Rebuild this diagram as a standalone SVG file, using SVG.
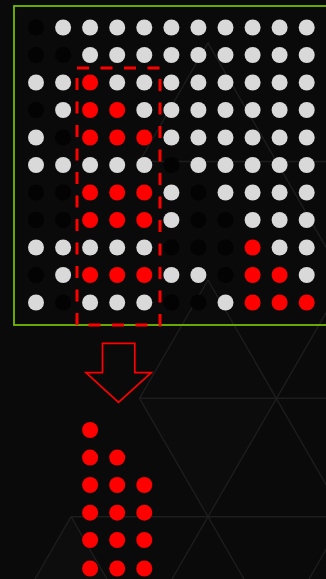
<svg xmlns="http://www.w3.org/2000/svg" width="326" height="579" viewBox="0 0 326 579">
<style>
.bg{fill:#0a0a0a}
.lat{stroke:#1d1d1d;stroke-width:1.4;fill:none}
.w{fill:#d9d9d9}
.r{fill:#ff0000}
.k{fill:#030303}
.frame{fill:none;stroke:#76b900;stroke-width:1.8}
.sel{fill:none;stroke:#ff0000;stroke-width:3;stroke-dasharray:12 11.5}
.arrow{fill:none;stroke:#ff0000;stroke-width:1.7;stroke-linejoin:miter}
</style>
<rect class="bg" x="0" y="0" width="326" height="579"/>
<g id="background-lattice">
<polygon points="139.5,398.3 208,516.7 276.5,398.3" fill="#0c0c0c"/>
<polygon points="208,280 139.5,398.3 276.5,398.3" fill="#0b0b0b"/>
<polygon points="71,516.7 35,579 107,579" fill="#0d0d0d"/>
<path class="lat" d="M139.5,161.5 L208,43 L345,280 M139.5,161.5 H326 M208,280 L139.5,398.3 M208,280 L362,547 M345,280 L172,579 M139.5,398.3 H326 M139.5,398.3 L244,579 M71,516.7 H326 M71,516.7 L35,579 M71,516.7 L107,579 M345,516.7 L309,579"/>
</g>
<g id="source-frame">
<rect class="frame" x="14" y="6" width="330" height="319"/>
</g>
<g id="grid">
<circle class="k" cx="36" cy="27.5" r="8"/><circle class="w" cx="63.1" cy="27.5" r="8"/><circle class="w" cx="90.1" cy="27.5" r="8"/><circle class="w" cx="117.2" cy="27.5" r="8"/><circle class="w" cx="144.3" cy="27.5" r="8"/><circle class="w" cx="171.4" cy="27.5" r="8"/><circle class="w" cx="198.4" cy="27.5" r="8"/><circle class="w" cx="225.5" cy="27.5" r="8"/><circle class="w" cx="252.6" cy="27.5" r="8"/><circle class="w" cx="279.6" cy="27.5" r="8"/><circle class="w" cx="306.7" cy="27.5" r="8"/>
<circle class="k" cx="36" cy="55" r="8"/><circle class="k" cx="63.1" cy="55" r="8"/><circle class="w" cx="90.1" cy="55" r="8"/><circle class="w" cx="117.2" cy="55" r="8"/><circle class="w" cx="144.3" cy="55" r="8"/><circle class="w" cx="171.4" cy="55" r="8"/><circle class="w" cx="198.4" cy="55" r="8"/><circle class="w" cx="225.5" cy="55" r="8"/><circle class="w" cx="252.6" cy="55" r="8"/><circle class="w" cx="279.6" cy="55" r="8"/><circle class="w" cx="306.7" cy="55" r="8"/>
<circle class="w" cx="36" cy="82.5" r="8"/><circle class="w" cx="63.1" cy="82.5" r="8"/><circle class="r" cx="90.1" cy="82.5" r="8"/><circle class="w" cx="117.2" cy="82.5" r="8"/><circle class="w" cx="144.3" cy="82.5" r="8"/><circle class="w" cx="171.4" cy="82.5" r="8"/><circle class="w" cx="198.4" cy="82.5" r="8"/><circle class="w" cx="225.5" cy="82.5" r="8"/><circle class="w" cx="252.6" cy="82.5" r="8"/><circle class="w" cx="279.6" cy="82.5" r="8"/><circle class="w" cx="306.7" cy="82.5" r="8"/>
<circle class="k" cx="36" cy="110" r="8"/><circle class="w" cx="63.1" cy="110" r="8"/><circle class="r" cx="90.1" cy="110" r="8"/><circle class="r" cx="117.2" cy="110" r="8"/><circle class="w" cx="144.3" cy="110" r="8"/><circle class="w" cx="171.4" cy="110" r="8"/><circle class="w" cx="198.4" cy="110" r="8"/><circle class="w" cx="225.5" cy="110" r="8"/><circle class="w" cx="252.6" cy="110" r="8"/><circle class="w" cx="279.6" cy="110" r="8"/><circle class="w" cx="306.7" cy="110" r="8"/>
<circle class="w" cx="36" cy="137.5" r="8"/><circle class="k" cx="63.1" cy="137.5" r="8"/><circle class="r" cx="90.1" cy="137.5" r="8"/><circle class="r" cx="117.2" cy="137.5" r="8"/><circle class="r" cx="144.3" cy="137.5" r="8"/><circle class="w" cx="171.4" cy="137.5" r="8"/><circle class="w" cx="198.4" cy="137.5" r="8"/><circle class="w" cx="225.5" cy="137.5" r="8"/><circle class="w" cx="252.6" cy="137.5" r="8"/><circle class="w" cx="279.6" cy="137.5" r="8"/><circle class="w" cx="306.7" cy="137.5" r="8"/>
<circle class="w" cx="36" cy="165" r="8"/><circle class="w" cx="63.1" cy="165" r="8"/><circle class="w" cx="90.1" cy="165" r="8"/><circle class="w" cx="117.2" cy="165" r="8"/><circle class="w" cx="144.3" cy="165" r="8"/><circle class="k" cx="171.4" cy="165" r="8"/><circle class="w" cx="198.4" cy="165" r="8"/><circle class="w" cx="225.5" cy="165" r="8"/><circle class="w" cx="252.6" cy="165" r="8"/><circle class="w" cx="279.6" cy="165" r="8"/><circle class="w" cx="306.7" cy="165" r="8"/>
<circle class="k" cx="36" cy="192.5" r="8"/><circle class="k" cx="63.1" cy="192.5" r="8"/><circle class="r" cx="90.1" cy="192.5" r="8"/><circle class="r" cx="117.2" cy="192.5" r="8"/><circle class="r" cx="144.3" cy="192.5" r="8"/><circle class="w" cx="171.4" cy="192.5" r="8"/><circle class="k" cx="198.4" cy="192.5" r="8"/><circle class="w" cx="225.5" cy="192.5" r="8"/><circle class="w" cx="252.6" cy="192.5" r="8"/><circle class="w" cx="279.6" cy="192.5" r="8"/><circle class="w" cx="306.7" cy="192.5" r="8"/>
<circle class="k" cx="36" cy="220" r="8"/><circle class="k" cx="63.1" cy="220" r="8"/><circle class="r" cx="90.1" cy="220" r="8"/><circle class="r" cx="117.2" cy="220" r="8"/><circle class="r" cx="144.3" cy="220" r="8"/><circle class="w" cx="171.4" cy="220" r="8"/><circle class="k" cx="198.4" cy="220" r="8"/><circle class="k" cx="225.5" cy="220" r="8"/><circle class="w" cx="252.6" cy="220" r="8"/><circle class="w" cx="279.6" cy="220" r="8"/><circle class="w" cx="306.7" cy="220" r="8"/>
<circle class="w" cx="36" cy="247.5" r="8"/><circle class="w" cx="63.1" cy="247.5" r="8"/><circle class="w" cx="90.1" cy="247.5" r="8"/><circle class="w" cx="117.2" cy="247.5" r="8"/><circle class="w" cx="144.3" cy="247.5" r="8"/><circle class="k" cx="171.4" cy="247.5" r="8"/><circle class="k" cx="198.4" cy="247.5" r="8"/><circle class="k" cx="225.5" cy="247.5" r="8"/><circle class="r" cx="252.6" cy="247.5" r="8"/><circle class="w" cx="279.6" cy="247.5" r="8"/><circle class="w" cx="306.7" cy="247.5" r="8"/>
<circle class="k" cx="36" cy="275" r="8"/><circle class="w" cx="63.1" cy="275" r="8"/><circle class="r" cx="90.1" cy="275" r="8"/><circle class="r" cx="117.2" cy="275" r="8"/><circle class="r" cx="144.3" cy="275" r="8"/><circle class="w" cx="171.4" cy="275" r="8"/><circle class="w" cx="198.4" cy="275" r="8"/><circle class="k" cx="225.5" cy="275" r="8"/><circle class="r" cx="252.6" cy="275" r="8"/><circle class="r" cx="279.6" cy="275" r="8"/><circle class="w" cx="306.7" cy="275" r="8"/>
<circle class="w" cx="36" cy="302.5" r="8"/><circle class="k" cx="63.1" cy="302.5" r="8"/><circle class="w" cx="90.1" cy="302.5" r="8"/><circle class="w" cx="117.2" cy="302.5" r="8"/><circle class="w" cx="144.3" cy="302.5" r="8"/><circle class="k" cx="171.4" cy="302.5" r="8"/><circle class="k" cx="198.4" cy="302.5" r="8"/><circle class="w" cx="225.5" cy="302.5" r="8"/><circle class="r" cx="252.6" cy="302.5" r="8"/><circle class="r" cx="279.6" cy="302.5" r="8"/><circle class="r" cx="306.7" cy="302.5" r="8"/>
</g>
<g id="selection">
<rect class="sel" x="77" y="68" width="83" height="257"/>
</g>
<g id="connectors">
<polygon class="arrow" points="102.5,343.3 134.8,343.3 134.8,372.7 151.3,372.7 118.5,402.3 86,372.7 102.5,372.7"/>
</g>
<g id="result">
<circle class="r" cx="90.1" cy="430" r="8"/>
<circle class="r" cx="90.1" cy="457.6" r="8"/><circle class="r" cx="117.2" cy="457.6" r="8"/>
<circle class="r" cx="90.1" cy="485" r="8"/><circle class="r" cx="117.2" cy="485" r="8"/><circle class="r" cx="144.3" cy="485" r="8"/>
<circle class="r" cx="90.1" cy="512.7" r="8"/><circle class="r" cx="117.2" cy="512.7" r="8"/><circle class="r" cx="144.3" cy="512.7" r="8"/>
<circle class="r" cx="90.1" cy="540" r="8"/><circle class="r" cx="117.2" cy="540" r="8"/><circle class="r" cx="144.3" cy="540" r="8"/>
<circle class="r" cx="90.1" cy="568.5" r="8"/><circle class="r" cx="117.2" cy="568.5" r="8"/><circle class="r" cx="144.3" cy="568.5" r="8"/>
</g>
</svg>
